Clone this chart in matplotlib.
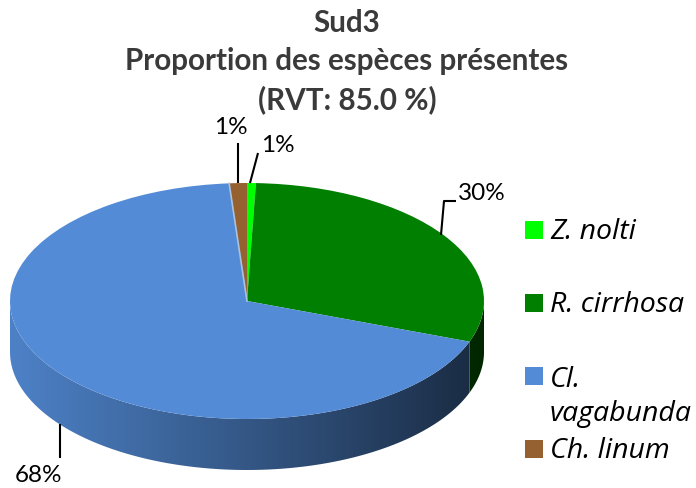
import numpy as np
import matplotlib
matplotlib.use("Agg")
import matplotlib.pyplot as plt
from matplotlib.colors import to_rgb
from matplotlib.patches import Rectangle, Polygon

title = "Sud3\nProportion des espèces présentes\n(RVT: 85.0 %)"
species = ["Z. nolti", "R. cirrhosa", "Cl.\nvagabunda", "Ch. linum"]
values = [0.6, 30.0, 68.2, 1.2]
pct_labels = ["1%", "30%", "68%", "1%"]
colors = ["#00FF00", "#007F00", "#538BD6", "#956130"]

W, H = 696, 488
CX, CY, RX, RY, DEPTH = 247, 301, 237, 118, 51
START = 90

fig = plt.figure(figsize=(W / 100, H / 100), dpi=100)
ax = fig.add_axes([0, 0, 1, 1])

bounds = np.concatenate([[0], np.cumsum(values)]) / sum(values) * 360
d = DEPTH / RY
xs_grad = np.linspace(-1, 1, 500)
fac = np.interp(CX + RX * xs_grad, [10, 190, 400, 484], [0.93, 0.70, 0.42, 0.30])
for i, col in enumerate(colors):
    a0, a1 = max(bounds[i], 90), min(bounds[i + 1], 270)
    if a1 <= a0:
        continue
    th = np.radians(np.linspace(a0, a1, 200))
    top = np.column_stack([np.sin(th), np.cos(th)])
    bot = (top - [0, d])[::-1]
    poly = Polygon(np.vstack([top, bot]), closed=True, facecolor="none", edgecolor="none",
                   transform=ax.transData)
    ax.add_patch(poly)
    img = fac[None, :, None] * np.array(to_rgb(col))[None, None, :]
    im = ax.imshow(img, extent=(-1, 1, -1 - d, 0.1), aspect="auto", zorder=1,
                   interpolation="bilinear")
    im.set_clip_path(poly)

wedges, _ = ax.pie(values, colors=colors, startangle=START, counterclock=False,
                   center=(0, 0), radius=1, frame=True,
                   wedgeprops=dict(linewidth=0, zorder=2))
ax.set_aspect("auto")
ax.set_xlim(-CX / RX, (W - CX) / RX)
ax.set_ylim((CY - H) / RY, CY / RY)
ax.axis("off")
t = np.radians(bounds[3])
ax.plot([0, np.sin(t)], [0, np.cos(t)], color="#A9C2DE", lw=1.2, zorder=3)

ov = fig.add_axes([0, 0, 1, 1], facecolor="none")
ov.set_xlim(0, W)
ov.set_ylim(H, 0)
ov.axis("off")

for line, y in zip(title.split("\n"), [23, 61, 100]):
    ov.text(347, y, line, ha="center", va="center", fontsize=21.3, fontweight="bold",
            family="Lato", color="#3A3A3A")

for xs, ys in [([238, 238], [143, 183]),
               ([258, 250], [153, 183]),
               ([456, 444, 441], [201, 201, 235]),
               ([60, 60], [424, 458])]:
    ov.plot(xs, ys, color="black", lw=1.5, zorder=4, solid_capstyle="butt")

label_pos = [(278, 145), (482, 194), (38, 476), (231, 128)]
for lab, (x, y) in zip(pct_labels, label_pos):
    ov.text(x, y, lab, ha="center", va="center", fontsize=17.5, family="Lato", color="black")

leg_sq = [230, 303, 376, 449]
leg_txt = [232, 305, 397, 451]
for name, col, ys, yt in zip(species, colors, leg_sq, leg_txt):
    ov.add_patch(Rectangle((525, ys - 9), 18, 18, facecolor=col, edgecolor="none"))
    ov.text(550, yt, name, ha="left", va="center", fontsize=20.5, style="italic",
            family="Open Sans", color="black", linespacing=1.3)

fig.savefig("out.png", dpi=100)
